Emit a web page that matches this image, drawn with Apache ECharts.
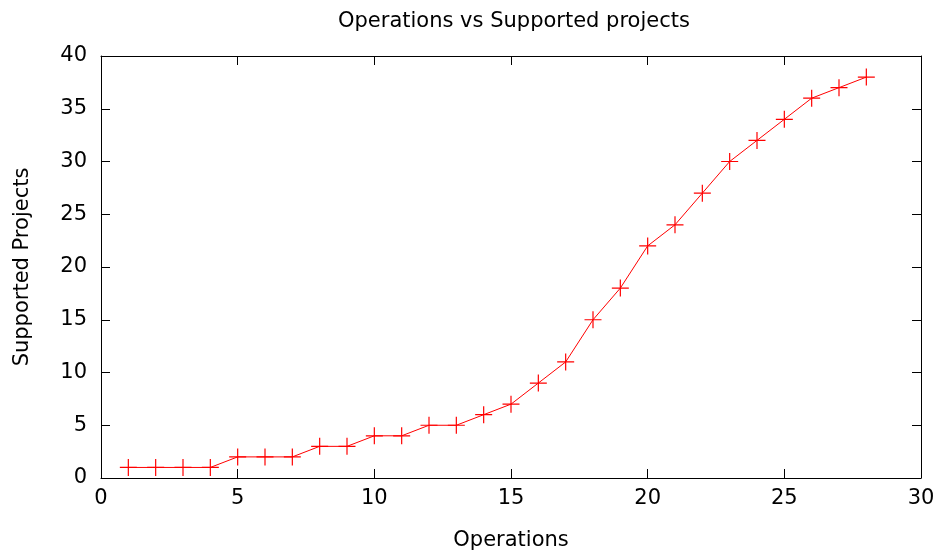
<!DOCTYPE html>
<html><head><meta charset="utf-8">
<script src="https://cdn.jsdelivr.net/npm/echarts@6/dist/echarts.min.js"></script>
<style>html,body{margin:0;padding:0;background:#fff}#c{width:939px;height:554px}</style>
</head><body><div id="c"></div>
<script>
const operations = [1,2,3,4,5,6,7,8,9,10,11,12,13,14,15,16,17,18,19,20,21,22,23,24,25,26,27,28];
const supported = [1,1,1,1,2,2,2,3,3,4,4,5,5,6,7,9,11,15,18,22,24,27,30,32,34,36,37,38];
const titleText = 'Operations vs Supported projects';
const xName = 'Operations';
const yName = 'Supported Projects';

const F = 'DejaVu Sans';
const chart = echarts.init(document.getElementById('c'), null, {renderer:'canvas'});
const axisLine = () => ({show:true, onZero:false, lineStyle:{color:'#000', width:1}});
const tick = () => ({show:true, inside:true, length:9, lineStyle:{color:'#000', width:1}});
chart.setOption({
  animation:false,
  backgroundColor:'#fff',
  title:{text:titleText, left:333, top:6, textStyle:{fontFamily:F, fontSize:21, fontWeight:'normal', color:'#000'}},
  grid:{left:101, right:18, top:56, bottom:76, containLabel:false, outerBoundsMode:'none'},
  xAxis:[
    {type:'value', min:0, max:30, interval:5, position:'bottom', gridIndex:0,
     name:xName, nameLocation:'middle', nameGap:52, nameTextStyle:{fontFamily:F, fontSize:21, color:'#000'},
     axisLine:axisLine(), axisTick:tick(), splitLine:{show:false},
     axisLabel:{fontFamily:F, fontSize:21, color:'#000', margin:10}},
    {type:'value', min:0, max:30, interval:5, position:'top', gridIndex:0, show:true,
     axisLine:axisLine(), axisTick:tick(), splitLine:{show:false}, axisLabel:{show:false}}
  ],
  yAxis:[
    {type:'value', min:0, max:40, interval:5, position:'left', gridIndex:0,
     name:yName, nameLocation:'middle', nameGap:68, nameTextStyle:{fontFamily:F, fontSize:21, color:'#000'},
     axisLine:axisLine(), axisTick:tick(), splitLine:{show:false},
     axisLabel:{fontFamily:F, fontSize:21, color:'#000', margin:14}},
    {type:'value', min:0, max:40, interval:5, position:'right', gridIndex:0, show:true,
     axisLine:axisLine(), axisTick:tick(), splitLine:{show:false}, axisLabel:{show:false}}
  ],
  series:[{
    type:'line',
    xAxisIndex:0, yAxisIndex:0,
    data: operations.map((x,i)=>[x, supported[i]]),
    lineStyle:{color:'#ff0000', width:1},
    symbol:'path://M0,8 L16,8 M8,0 L8,16',
    symbolSize:17,
    showAllSymbol:true,
    itemStyle:{color:'rgba(0,0,0,0)', borderColor:'#ff0000', borderWidth:1.2},
    emphasis:{disabled:true}
  },{
    type:'line', xAxisIndex:1, yAxisIndex:1, data:[], silent:true
  }]
});
</script></body></html>
